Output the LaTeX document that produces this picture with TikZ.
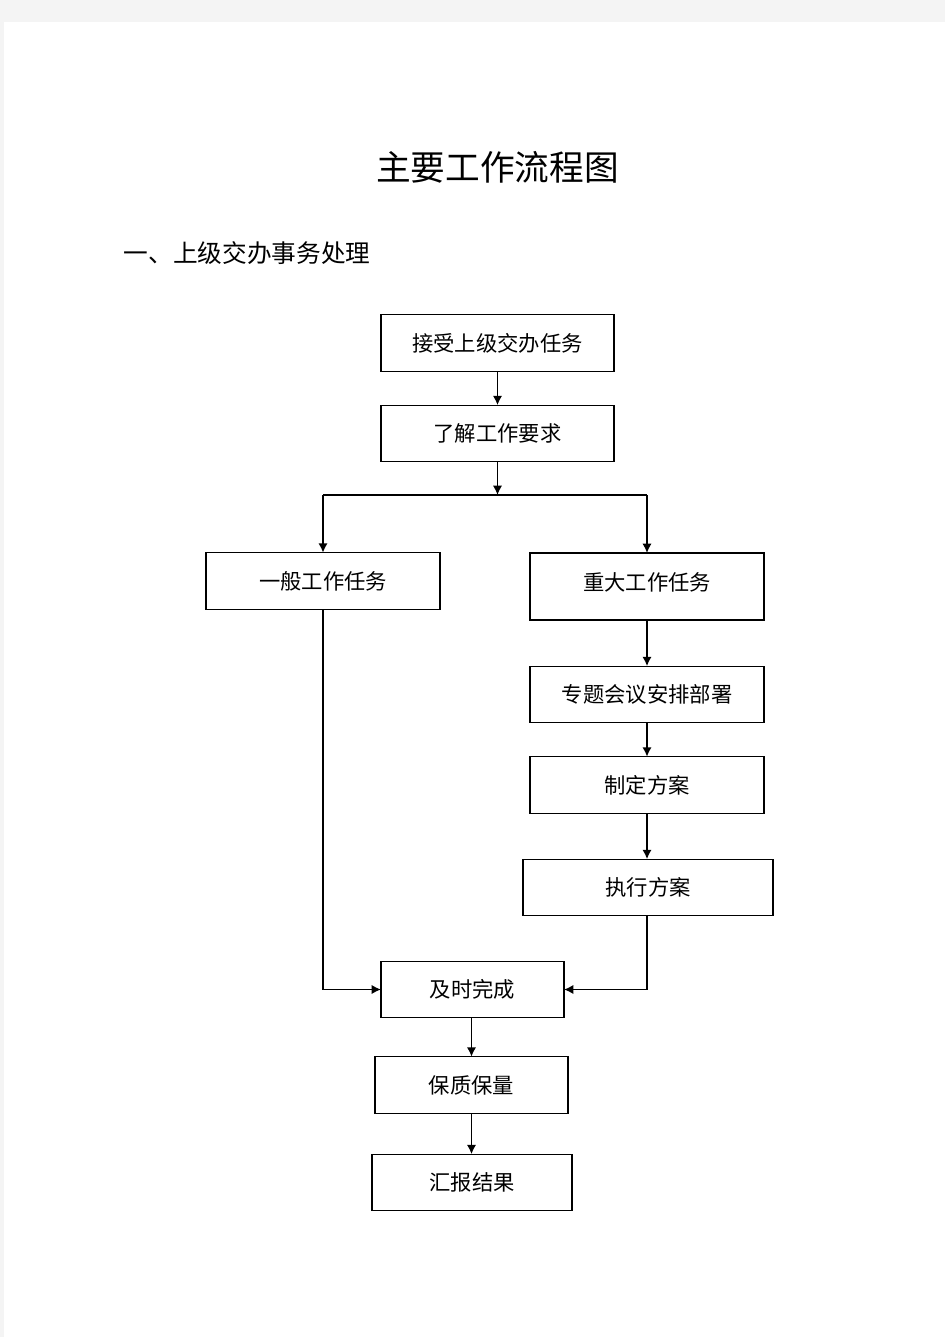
\documentclass[tikz,border=0pt]{standalone}
\usepackage{fontspec}
\newfontfamily\cjk{Noto Sans CJK SC}
\usetikzlibrary{arrows.meta}
\definecolor{pagegray}{HTML}{F4F4F4}
\begin{document}
\begin{tikzpicture}[x=0.75pt,y=-0.75pt,
  box/.style={draw=black,line width=0.8pt,rectangle,inner sep=0pt,outer sep=0pt,
    minimum width=175.5pt,minimum height=42.5pt,font=\cjk\fontsize{16pt}{18pt}\selectfont},
  arr/.style={line width=1.3pt,-{Latex[length=7pt,width=7pt]}},
  ln/.style={line width=1.3pt}]
\useasboundingbox (0,0) rectangle (945,1337);
\fill[pagegray] (0,0) rectangle (945,1337);
\fill[white] (4,22) rectangle (945,1337);
\node[font=\cjk\fontsize{26pt}{30pt}\selectfont] (title) at (497.5,167) {主要工作流程图};
\node[anchor=west,font=\cjk\fontsize{18.5pt}{22pt}\selectfont] (head) at (119,253) {一、上级交办事务处理};
\node[box,minimum width=174.75pt] (n1) at (497.5,343) {接受上级交办任务};
\node[box,minimum width=174.75pt] (n2) at (497.5,433.5) {了解工作要求};
\node[box] (n4) at (323,581) {一般工作任务};
\node[box,minimum height=50.25pt] (n5) at (647,586.5) {\raisebox{7pt}{重大工作任务}};
\node[box] (n6) at (647,694.5) {专题会议安排部署};
\node[box] (n7) at (647,785) {制定方案};
\node[box,minimum width=187.5pt] (n8) at (648,887.5) {执行方案};
\node[box,minimum width=137.25pt] (n9) at (472.5,989.5) {及时完成};
\node[box,minimum width=144.75pt] (n10) at (471.5,1085) {保质保量};
\node[box,minimum width=150pt] (n11) at (472,1182.5) {汇报结果};
\coordinate (bm) at (497.5,495);
\coordinate (bl) at (323,495);
\coordinate (br) at (647,495);
\draw[arr] (n1) -- (n2);
\draw[arr] (n2) -- (bm);
\draw[line width=0.8pt] (bl) -- (br);
\draw[arr] (bl) -- (n4);
\draw[arr] (br) -- (n5);
\draw[arr] (n5) -- (n6);
\draw[arr] (n6) -- (n7);
\draw[arr] (n7) -- (n8.north -| n7);
\draw[arr] (n4.south) |- (n9.west);
\draw[arr] (n8.south -| n7) |- (n9.east);
\draw[arr] (n9.south -| n10) -- (n10);
\draw[arr] (n10) -- (n11.north -| n10);
\end{tikzpicture}
\end{document}
